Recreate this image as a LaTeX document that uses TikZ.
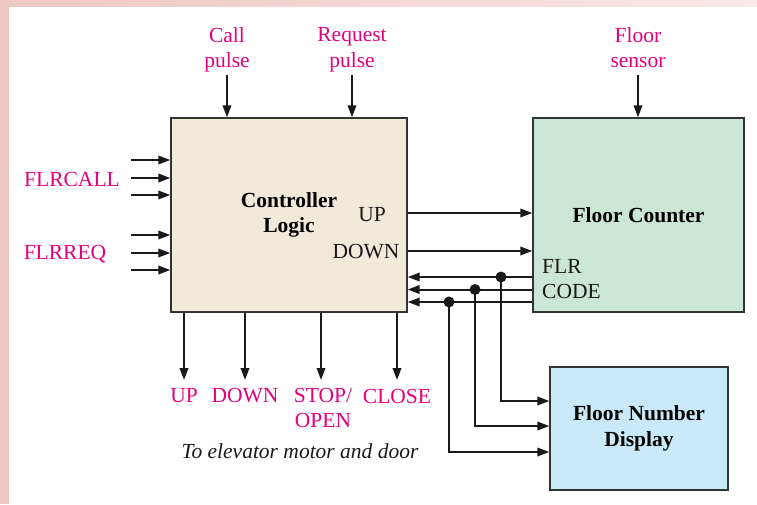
\documentclass[tikz,border=0pt]{standalone}
\usepackage{fontspec}
\setmainfont{Liberation Serif}
\usetikzlibrary{arrows.meta}
\definecolor{mag}{HTML}{E6007E}
\definecolor{ctrlfill}{HTML}{F2EAD8}
\definecolor{fcfill}{HTML}{CCE6D6}
\definecolor{dispfill}{HTML}{C9E9F8}
\definecolor{bandL}{HTML}{EEC7C1}
\definecolor{bandR}{HTML}{F9E8E6}
\tikzset{
  every node/.style={font=\fontsize{21.5}{25.5}\selectfont},
  blockbox/.style={draw=black!80, line width=1.4pt, inner sep=0pt, font=\fontsize{21.5}{25.5}\selectfont\bfseries, align=center},
  sig/.style={line width=2pt, draw=black!90, -{Triangle[length=12pt,width=8.5pt]}},
  maglabel/.style={text=mag, align=center, inner sep=0pt},
  blklabel/.style={text=black!90, align=left, inner sep=0pt},
  dotmark/.style={circle, fill=black!90, inner sep=0pt, minimum size=11pt}
}
\begin{document}
\begin{tikzpicture}[x=1pt,y=-1pt]
\useasboundingbox (0,0) rectangle (757,504);
\fill[white] (0,0) rectangle (757,504);
\fill[bandL] (0,0) rectangle (9,504);
\shade[left color=bandL, right color=bandR] (0,0) rectangle (757,6);

% blocks
\node[blockbox, fill=ctrlfill, minimum width=236pt, minimum height=194pt] (ctrl) at (289,215) {Controller\\Logic};
\node[blockbox, fill=fcfill, minimum width=211pt, minimum height=194pt] (fc) at (638.5,215) {Floor Counter};
\node[blockbox, fill=dispfill, minimum width=178pt, minimum height=123pt] (disp) at (639,428.5) {Floor Number\\Display};

% top labels
\node[maglabel] (call) at (227,50) {Call\\pulse};
\node[maglabel] (req) at (352,49.5) {Request\\pulse};
\node[maglabel] (sens) at (638,47.5) {Floor\\sensor};
\coordinate (callS) at (227,75);
\coordinate (reqS) at (352,75);
\coordinate (sensS) at (638,75);
\draw[sig] (callS) -- (callS |- ctrl.north);
\draw[sig] (reqS) -- (reqS |- ctrl.north);
\draw[sig] (sensS) -- (sensS |- fc.north);

% left inputs
\node[maglabel] (flrcall) at (72,179) {FLRCALL};
\node[maglabel] (flrreq) at (65,254) {FLRREQ};
\foreach \yy/\nm in {160/a,178/b,195/c,235/d,253/e,270/f}{
  \coordinate (in\nm) at (131,\yy);
  \draw[sig] (in\nm) -- (in\nm -| ctrl.west);
}

% inner labels
\node[blklabel] (upl) at (372,215) {UP};
\node[blklabel] (downl) at (366,252) {DOWN};
\node[blklabel, anchor=west] (flrcode) at (542,279) {FLR\\CODE};

% UP / DOWN to counter
\coordinate (upy) at (0,213);
\coordinate (dny) at (0,251);
\draw[sig] (ctrl.east |- upy) -- (fc.west |- upy);
\draw[sig] (ctrl.east |- dny) -- (fc.west |- dny);

% feedback bus
\node[dotmark] (d1) at (501,277) {};
\node[dotmark] (d2) at (475,289.5) {};
\node[dotmark] (d3) at (449,302) {};
\draw[sig] (fc.west |- d1) -- (ctrl.east |- d1);
\draw[sig] (fc.west |- d2) -- (ctrl.east |- d2);
\draw[sig] (fc.west |- d3) -- (ctrl.east |- d3);
\coordinate (r1) at (0,401);
\coordinate (r2) at (0,426);
\coordinate (r3) at (0,452);
\draw[sig] (d1.center) -- (d1 |- r1) -- (disp.west |- r1);
\draw[sig] (d2.center) -- (d2 |- r2) -- (disp.west |- r2);
\draw[sig] (d3.center) -- (d3 |- r3) -- (disp.west |- r3);

% outputs
\foreach \xx/\nm in {184/o1,245/o2,321/o3,397/o4}{
  \coordinate (\nm) at (\xx,380);
  \draw[sig] (\nm |- ctrl.south) -- (\nm);
}
\node[maglabel] (lup) at (184,396) {UP};
\node[maglabel] (ldown) at (245,396) {DOWN};
\node[maglabel, anchor=north] (lstop) at (323,388) {STOP/\\OPEN};
\node[maglabel] (lclose) at (397,396) {CLOSE};
\node[inner sep=0pt, font=\fontsize{21.5}{25.5}\selectfont\itshape, text=black!90] (motor) at (300,451) {To elevator motor and door};
\end{tikzpicture}
\end{document}
